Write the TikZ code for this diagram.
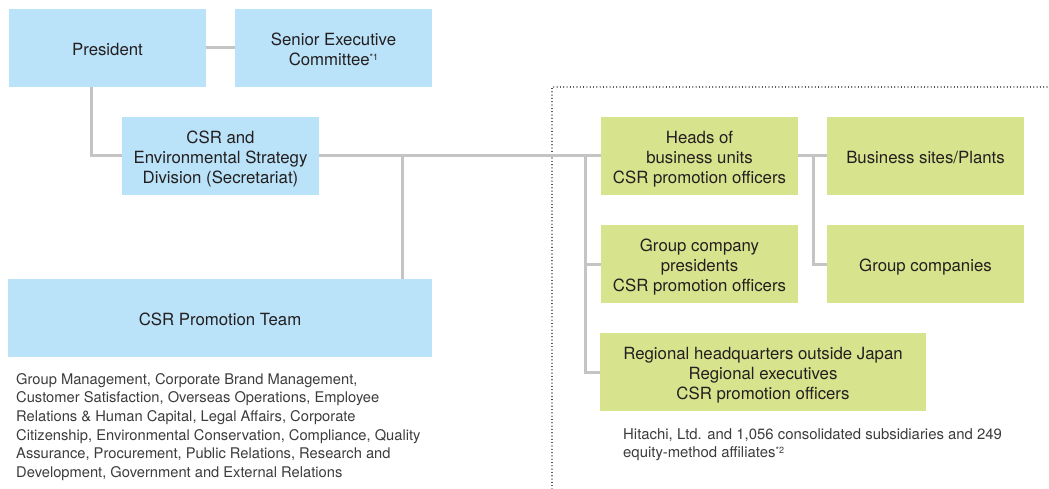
\documentclass[tikz,border=0pt]{standalone}
\usepackage{fontspec}
\setmainfont{TeX Gyre Heros}
\definecolor{boxblue}{HTML}{BAE2F8}
\definecolor{boxgreen}{HTML}{D8E48D}
\definecolor{conngray}{HTML}{C4C4C4}
\definecolor{txt}{HTML}{231F20}
\definecolor{notetxt}{HTML}{3C3C3C}
\newcommand{\fnmark}[1]{{\fontsize{9}{9}\selectfont\raisebox{4.5pt}{#1}}}
\newcommand{\ml}[1]{\begin{tabular}{@{}c@{}}\rule{0pt}{21pt}#1\end{tabular}}
\begin{document}
\begin{tikzpicture}[x=1pt,y=-1pt,
  orgbox/.style={minimum width=197pt,minimum height=78pt,inner sep=0pt,
    text=txt,font=\fontsize{16.8}{20}\selectfont},
  bluebox/.style={orgbox,fill=boxblue},
  greenbox/.style={orgbox,fill=boxgreen},
  conn/.style={draw=conngray,line width=3pt},
  note/.style={inner sep=0pt,align=left,text=notetxt,font=\fontsize{14.7}{18.7}\selectfont},
  dotline/.style={draw=black!85,line width=1.1pt,dash pattern=on 0.01pt off 3.3pt,line cap=round}]
\useasboundingbox (0,0) rectangle (1049,489);
% dotted frame
\coordinate (dtop) at (552,87);
\coordinate (dright) at (1049,87);
\coordinate (dbot) at (552,489);
\draw[dotline] (dbot) -- (dtop) -- (dright);
% boxes
\node[bluebox] (pres) at (107.5,48) {\ml{President}};
\node[bluebox] (sec) at (333.5,48) {\ml{Senior Executive\\Committee\fnmark{*1}}};
\node[bluebox] (csr) at (220.5,156) {\ml{CSR and\\Environmental Strategy\\Division (Secretariat)}};
\node[bluebox,minimum width=424pt] (team) at (220,318) {\ml{CSR Promotion Team}};
\node[greenbox] (heads) at (699.5,156) {\ml{Heads of\\business units\\CSR promotion officers}};
\node[greenbox] (biz) at (925.5,156) {\ml{Business sites/Plants}};
\node[greenbox] (gcp) at (699.5,264) {\ml{Group company\\presidents\\CSR promotion officers}};
\node[greenbox] (gc) at (925.5,264) {\ml{Group companies}};
\node[greenbox,minimum width=326pt] (reg) at (763,372) {\ml{Regional headquarters outside Japan\\Regional executives\\CSR promotion officers}};
% notes
\node[note,anchor=north west] (teamnote) at (16,373) {Group Management, Corporate Brand Management,\\Customer Satisfaction, Overseas Operations, Employee\\Relations \& Human Capital, Legal Affairs, Corporate\\Citizenship, Environmental Conservation, Compliance, Quality\\Assurance, Procurement, Public Relations, Research and\\Development, Government and External Relations};
\node[note,anchor=north west,font=\fontsize{14.9}{18.7}\selectfont] (grpnote) at (623,428) {Hitachi, Ltd. and 1,056 consolidated subsidiaries and 249\\equity-method affiliates\fnmark{*2}};
% junctions
\coordinate (jteam) at (402,156);
\coordinate (jleft) at (585,156);
\coordinate (jright) at (813,156);
% connectors
\draw[conn] (pres.east) -- (sec.west);
\draw[conn] ([xshift=83pt]pres.south west) |- (csr.west);
\draw[conn] (csr.east) -- (heads.west);
\draw[conn] (jteam) -- (jteam |- team.north);
\draw[conn] (jleft) |- (reg.west);
\draw[conn] (jleft |- gcp.west) -- (gcp.west);
\draw[conn] (heads.east) -- (biz.west);
\draw[conn] (jright) |- (gc.west);
\end{tikzpicture}
\end{document}
